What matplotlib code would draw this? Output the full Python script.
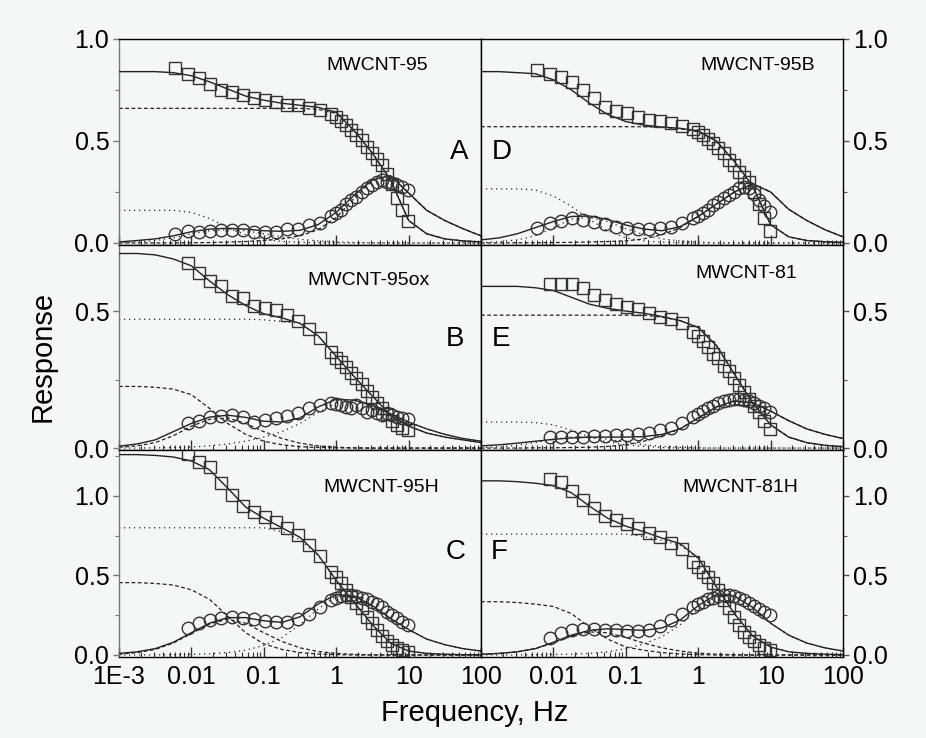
import numpy as np
import matplotlib
matplotlib.use("Agg")
import matplotlib.pyplot as plt
from matplotlib.ticker import FixedLocator, FixedFormatter, NullFormatter, MultipleLocator

plt.rcParams['font.family'] = ['Liberation Sans', 'DejaVu Sans']

BG = '#f3f8f5'
W, H = 926, 738

grid_logf = [-3.0, -2.75, -2.5, -2.25, -2.0, -1.75, -1.5, -1.25, -1.0, -0.75, -0.5,
             -0.25, 0.0, 0.25, 0.5, 0.75, 1.0, 1.25, 1.5, 1.75, 2.0]

# log10(f) of the measured points
logf_b = [-2.05, -1.9, -1.74, -1.59, -1.44, -1.29, -1.13, -0.98, -0.83, -0.68, -0.53, -0.38, -0.22,
          -0.07, 0.0, 0.07, 0.14, 0.21, 0.28, 0.35, 0.42, 0.49, 0.56, 0.63, 0.70, 0.77, 0.84, 0.91, 0.99]
logf_a = [-2.23, -2.05, -1.9, -1.74, -1.59, -1.44, -1.29, -1.13, -0.98, -0.83, -0.68, -0.53, -0.38, -0.22,
          -0.07, 0.0, 0.07, 0.14, 0.21, 0.28, 0.35, 0.42, 0.49, 0.56, 0.63, 0.70, 0.77, 0.84, 0.91, 0.99]

# ---- MWCNT-95 (A)
A_sq = [.86, .83, .81, .78, .75, .74, .725, .71, .70, .69, .675, .675, .66, .65, .63, .62, .60, .58, .555,
        .53, .505, .47, .44, .41, .38, .34, .29, .22, .16, .11]
A_ci = [.045, .06, .055, .06, .065, .065, .065, .055, .055, .055, .07, .07, .09, .10, .13, .145, .16, .19,
        .21, .225, .25, .27, .285, .30, .31, .30, .295, .285, .275, .26]
A_fit_re = [.84, .84, .84, .835, .82, .79, .755, .72, .70, .685, .675, .665, .64, .55, .44, .31, .11, .045, .02, .01, .005]
A_fit_im = [.005, .012, .02, .035, .055, .068, .072, .068, .06, .057, .062, .09, .15, .235, .31, .33, .245, .16, .11, .07, .035]
A_c1_re = [.66] * 11 + [.655, .635, .55, .44, .31, .11, .045, .02, .01, .005]
A_c2_re = [.16, .16, .16, .16, .15, .12, .075, .04, .018, .007, .003, .001] + [0] * 9
A_c1_im = [0, 0, 0, 0, .001, .002, .004, .007, .012, .02, .035, .065, .125, .22, .305, .33, .245, .16, .11, .07, .035]
A_c2_im = [.002, .005, .012, .025, .045, .06, .065, .06, .045, .03, .018, .01, .005, .002, .001] + [0] * 6

# ---- MWCNT-95B (D)
D_sq = [.85, .83, .815, .79, .75, .71, .665, .645, .635, .62, .605, .60, .59, .575, .56, .545, .53, .51,
        .49, .465, .44, .405, .38, .35, .325, .30, .25, .19, .12, .06]
D_ci = [.075, .10, .11, .12, .115, .105, .095, .08, .075, .07, .07, .075, .08, .10, .12, .13, .145, .16,
        .185, .20, .22, .235, .25, .27, .275, .27, .24, .21, .18, .15]
D_fit_re = [.84, .84, .835, .83, .80, .75, .685, .63, .595, .578, .568, .562, .55, .50, .40, .28, .09, .03, .012, .006, .003]
D_fit_im = [.015, .025, .045, .075, .105, .13, .132, .115, .088, .068, .06, .08, .13, .19, .25, .29, .25, .165, .11, .065, .03]
D_c1_re = [.57] * 10 + [.568, .56, .545, .50, .40, .28, .09, .03, .012, .006, .003]
D_c2_re = [.265, .265, .265, .26, .23, .18, .115, .06, .025, .01, .004, .001] + [0] * 9
D_c1_im = [0, 0, .001, .001, .002, .003, .005, .007, .01, .02, .04, .075, .13, .19, .25, .29, .25, .165, .11, .065, .03]
D_c2_im = [.002, .006, .015, .035, .075, .118, .125, .105, .07, .04, .02, .01, .004, .001] + [0] * 7

# ---- MWCNT-95ox (B)
B_sq = [.675, .64, .61, .59, .555, .548, .52, .51, .505, .485, .463, .434, .40, .35, .33, .315, .295, .275,
        .255, .235, .21, .185, .165, .145, .125, .10, .085, .073, .066]
B_ci = [.09, .10, .113, .118, .12, .113, .095, .102, .11, .117, .128, .146, .157, .164, .16, .157, .15, .146,
        .157, .146, .13, .14, .128, .12, .128, .12, .113, .11, .106]
B_fit_re = [.71, .71, .705, .69, .665, .61, .56, .52, .49, .475, .455, .41, .335, .26, .19, .12, .08, .055, .04, .03, .02]
B_fit_im = [.007, .015, .03, .06, .09, .113, .12, .112, .098, .095, .11, .15, .178, .175, .155, .125, .095, .07, .05, .035, .025]
B_c1_re = [.47] * 8 + [.468, .462, .455, .41, .335, .26, .19, .12, .08, .055, .04, .03, .02]
B_c2_re = [.225, .225, .222, .215, .195, .145, .09, .05, .025, .012, .005, .002, .001] + [0] * 8
B_c1_im = [0, 0, .001, .002, .004, .008, .015, .025, .04, .06, .09, .13, .165, .172, .155, .125, .095, .07, .05, .035, .025]
B_c2_im = [.003, .008, .02, .045, .08, .105, .11, .09, .06, .035, .018, .008, .003, .001] + [0] * 7

# ---- MWCNT-81 (E)
E_sq = [.60, .60, .598, .585, .56, .54, .525, .515, .507, .493, .48, .47, .455, .425, .41, .39, .37, .345,
        .33, .30, .28, .255, .23, .205, .18, .155, .13, .10, .07]
E_ci = [.04, .04, .04, .042, .045, .045, .047, .048, .05, .055, .065, .075, .09, .115, .125, .135, .145, .155,
        .165, .17, .175, .178, .178, .175, .17, .165, .155, .145, .13]
E_fit_re = [.59, .59, .59, .585, .575, .55, .525, .51, .50, .492, .48, .465, .44, .375, .27, .165, .085, .04, .02, .01, .005]
E_fit_im = [.008, .012, .018, .025, .032, .037, .04, .04, .04, .042, .05, .07, .11, .15, .172, .165, .135, .10, .07, .05, .035]
E_c1_re = [.485] * 10 + [.478, .465, .44, .375, .27, .165, .085, .04, .02, .01, .005]
E_c2_re = [.095, .095, .095, .093, .085, .065, .04, .022, .012, .006, .002] + [0] * 10
E_c1_im = [0, 0, 0, .001, .001, .002, .003, .006, .012, .025, .045, .07, .11, .15, .172, .165, .135, .10, .07, .05, .035]
E_c2_im = [.002, .005, .01, .02, .032, .04, .04, .032, .022, .012, .006, .003, .001] + [0] * 8

# ---- MWCNT-95H (C)
C_sq = [1.264, 1.214, 1.18, 1.082, 1.006, .937, .90, .868, .836, .80, .755, .69, .623, .522, .49, .453,
        .41, .365, .327, .296, .24, .20, .157, .12, .088, .063, .044, .03, .02]
C_ci = [.17, .20, .22, .235, .24, .235, .225, .215, .205, .21, .225, .26, .30, .345, .36, .37, .375, .375,
        .37, .36, .35, .335, .32, .30, .27, .25, .23, .21, .19]
C_fit_re = [1.26, 1.26, 1.255, 1.245, 1.22, 1.165, 1.05, .93, .86, .80, .74, .63, .47, .33, .19, .075, .025, .01, .005, .002, .001]
C_fit_im = [.01, .02, .04, .08, .14, .20, .235, .235, .215, .205, .24, .32, .38, .37, .31, .23, .16, .10, .065, .04, .025]
C_c1_re = [.80] * 9 + [.775, .725, .625, .47, .33, .19, .075, .025, .01, .005, .002, .001]
C_c2_re = [.455, .455, .45, .44, .41, .35, .245, .14, .07, .035, .015, .006, .002] + [0] * 8
C_c1_im = [0, 0, .001, .002, .004, .008, .015, .03, .06, .11, .19, .29, .37, .37, .31, .23, .16, .10, .065, .04, .025]
C_c2_im = [.005, .015, .035, .075, .135, .195, .225, .20, .14, .085, .045, .022, .01, .004, .001] + [0] * 6

# ---- MWCNT-81H (F)
F_sq = [1.107, 1.09, 1.03, .975, .925, .874, .85, .824, .80, .767, .742, .704, .667, .585, .553, .522,
        .49, .453, .409, .346, .296, .24, .19, .145, .113, .088, .065, .045, .03]
F_ci = [.11, .14, .155, .165, .165, .16, .155, .15, .15, .16, .185, .22, .26, .30, .32, .335, .35, .36,
        .37, .375, .375, .37, .36, .345, .33, .31, .29, .27, .25]
F_fit_re = [1.095, 1.095, 1.09, 1.08, 1.065, 1.02, .935, .86, .81, .775, .735, .70, .61, .43, .26, .12, .05, .02, .01, .005, .002]
F_fit_im = [.005, .01, .02, .04, .08, .125, .155, .165, .16, .155, .17, .22, .31, .38, .37, .30, .20, .125, .075, .045, .025]
F_c1_re = [.76] * 9 + [.745, .72, .69, .61, .43, .26, .12, .05, .02, .01, .005, .002]
F_c2_re = [.335, .335, .33, .32, .305, .26, .175, .10, .05, .03, .015, .006, .002] + [0] * 8
F_c1_im = [0, 0, 0, .001, .003, .005, .01, .02, .04, .07, .115, .19, .29, .37, .37, .30, .20, .125, .075, .045, .025]
F_c2_im = [.003, .01, .02, .04, .075, .12, .145, .14, .11, .075, .045, .025, .012, .005, .002] + [0] * 6

names = ["MWCNT-95", "MWCNT-95ox", "MWCNT-95H", "MWCNT-95B", "MWCNT-81", "MWCNT-81H"]
letters = ["A", "B", "C", "D", "E", "F"]

DASHED = (0, (3, 2))
DOTTED = (0, (1, 3))


def px(x, y):
    return x / W, 1 - y / H


def add_ax(fig, x0, x1, y0, y1):
    return fig.add_axes([x0 / W, 1 - y1 / H, (x1 - x0) / W, (y1 - y0) / H], facecolor=BG)


def draw(ax, logf, sq, ci, fit_re, fit_im, c1_re, c2_re, c1_im, c2_im, c1_style, c2_style):
    fg = 10 ** np.array(grid_logf)
    fd = 10 ** np.array(logf)
    ax.plot(fg, c1_re, color='#222222', lw=0.9, ls=c1_style, zorder=2)
    ax.plot(fg, c1_im, color='#222222', lw=0.9, ls=c1_style, zorder=2)
    ax.plot(fg, c2_re, color='#222222', lw=0.9, ls=c2_style, zorder=2)
    ax.plot(fg, c2_im, color='#222222', lw=0.9, ls=c2_style, zorder=2)
    ax.plot(fg, fit_re, color='#222222', lw=1.0, zorder=3)
    ax.plot(fg, fit_im, color='#222222', lw=1.0, zorder=3)
    ax.plot(fd, sq, ls='none', marker='s', ms=8, mfc='none', mec='#333333', mew=1.0, zorder=4)
    ax.plot(fd, ci, ls='none', marker='o', ms=9, mfc='none', mec='#333333', mew=1.0, zorder=4)


fig = plt.figure(figsize=(W / 100, H / 100), dpi=100, facecolor=BG)

rows = [(39, 245), (245, 450), (450, 657)]
cols = [(119, 481), (481, 843)]
ylims = [(-0.01, 1.0), (-0.007, 0.741), (-0.0126, 1.289)]
panels = [
    (logf_a, A_sq, A_ci, A_fit_re, A_fit_im, A_c1_re, A_c2_re, A_c1_im, A_c2_im, DASHED, DOTTED),
    (logf_b, B_sq, B_ci, B_fit_re, B_fit_im, B_c1_re, B_c2_re, B_c1_im, B_c2_im, DOTTED, DASHED),
    (logf_b, C_sq, C_ci, C_fit_re, C_fit_im, C_c1_re, C_c2_re, C_c1_im, C_c2_im, DOTTED, DASHED),
    (logf_a, D_sq, D_ci, D_fit_re, D_fit_im, D_c1_re, D_c2_re, D_c1_im, D_c2_im, DASHED, DOTTED),
    (logf_b, E_sq, E_ci, E_fit_re, E_fit_im, E_c1_re, E_c2_re, E_c1_im, E_c2_im, DASHED, DOTTED),
    (logf_b, F_sq, F_ci, F_fit_re, F_fit_im, F_c1_re, F_c2_re, F_c1_im, F_c2_im, DOTTED, DASHED),
]

major_x = [1e-3, 1e-2, 1e-1, 1, 10, 100]
minor_x = [m * 10.0 ** e for e in range(-3, 2) for m in range(2, 10)]

for c, (x0, x1) in enumerate(cols):
    for r, (y0, y1) in enumerate(rows):
        k = c * 3 + r
        ax = add_ax(fig, x0, x1, y0, y1)
        draw(ax, *panels[k])
        ax.set_xscale('log')
        ax.set_xlim(1e-3, 100)
        ax.set_ylim(*ylims[r])
        ax.xaxis.set_major_locator(FixedLocator(major_x))
        ax.xaxis.set_minor_locator(FixedLocator(minor_x))
        ax.xaxis.set_minor_formatter(NullFormatter())
        ax.yaxis.set_major_locator(MultipleLocator(0.5))
        ax.yaxis.set_minor_locator(MultipleLocator(0.25))
        ax.tick_params(axis='x', which='both', direction='in', top=False, bottom=True, color='#333333')
        ax.tick_params(axis='x', which='major', length=7, width=1)
        ax.tick_params(axis='x', which='minor', length=3.5, width=0.8)
        if r == 2:
            labels = ['1E-3', '0.01', '0.1', '1', '10', '100']
            if c == 1:
                labels[0] = ''
            ax.xaxis.set_major_formatter(FixedFormatter(labels))
            ax.tick_params(axis='x', labelsize=18, pad=6)
        else:
            ax.xaxis.set_major_formatter(NullFormatter())
        if c == 0:
            ax.tick_params(axis='y', which='both', direction='out', left=True, right=False,
                           labelleft=True, labelright=False, labelsize=18, pad=3, color='#777777')
            ax.spines['left'].set_color('#777777')
        else:
            ax.tick_params(axis='y', which='both', direction='out', left=False, right=True,
                           labelleft=False, labelright=True, labelsize=18, pad=3, color='#555555')
        ax.tick_params(axis='y', which='major', length=4, width=1)
        ax.tick_params(axis='y', which='minor', length=3, width=0.8)
        ax.yaxis.set_major_formatter(plt.FuncFormatter(lambda v, p: f'{v:.1f}'))
        for s in ax.spines.values():
            s.set_linewidth(1.0)

# sample names
name_pos = [(326, 65), (307, 280), (323, 488), (700, 65), (695, 274), (682, 488)]
for (x, y), t in zip(name_pos, [names[0], names[1], names[2], names[3], names[4], names[5]]):
    fig.text(*px(x, y), t, fontsize=14, ha='left', va='center')

# panel letters
letter_pos = [(468, 152, 'right'), (464, 339, 'right'), (466, 552, 'right'),
              (492, 152, 'left'), (492, 339, 'left'), (491, 552, 'left')]
for (x, y, ha), t in zip(letter_pos, letters):
    fig.text(*px(x, y), t, fontsize=20, ha=ha, va='center')

fig.text(*px(43, 356), 'Response', fontsize=21, rotation=90, ha='center', va='center')
fig.text(*px(475, 713), 'Frequency, Hz', fontsize=21, ha='center', va='center')

fig.savefig('out.png', dpi=100, facecolor=BG)
